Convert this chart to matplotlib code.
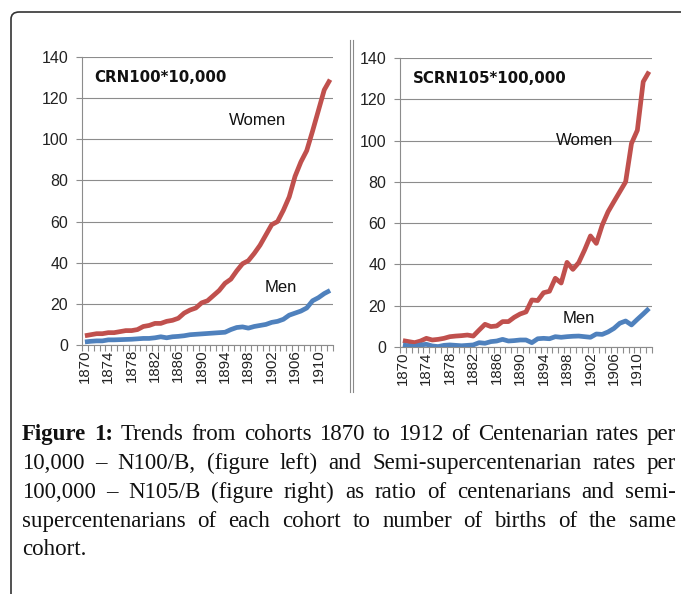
import numpy as np
import matplotlib
matplotlib.use("Agg")
import matplotlib.pyplot as plt
from matplotlib.patches import FancyBboxPatch
from matplotlib.lines import Line2D

# DATA
years = list(range(1870, 1913))

crn_women = [4.5, 5.0, 5.5, 5.5, 6.0, 6.0, 6.5, 7.0, 7.0, 7.5, 9.0, 9.5, 10.5, 10.5, 11.5,
             12.0, 13.0, 15.5, 17.0, 18.0, 20.5, 21.5, 24.0, 26.5, 30.0, 32.0, 36.0, 39.5,
             41.0, 44.5, 48.5, 53.5, 58.5, 60.0, 65.5, 72.0, 82.0, 89.0, 94.5, 104.0, 114.0,
             124.0, 129.0]
crn_men = [1.5, 1.8, 2.0, 2.0, 2.5, 2.5, 2.6, 2.7, 2.8, 3.0, 3.2, 3.2, 3.5, 4.0, 3.5,
           4.0, 4.2, 4.5, 5.0, 5.2, 5.4, 5.6, 5.8, 6.0, 6.2, 7.5, 8.5, 8.8, 8.2, 9.0, 9.5,
           10.0, 11.0, 11.5, 12.5, 14.5, 15.5, 16.5, 18.0, 21.5, 23.0, 25.0, 26.5]

scrn_women = [3.1, 2.6, 2.1, 2.9, 4.2, 3.4, 3.7, 4.2, 5.0, 5.3, 5.5, 5.8, 5.3, 8.2, 11.0,
              9.9, 10.2, 12.3, 12.3, 14.4, 16.0, 17.0, 22.8, 22.5, 26.3, 27.0, 33.3, 31.0,
              41.0, 37.6, 40.9, 47.0, 53.8, 50.2, 59.0, 65.5, 70.4, 75.2, 80.0, 98.6, 105.0,
              128.5, 133.4]
scrn_men = [1.0, 0.5, 0.2, 1.0, 1.3, 0.5, 0.2, 0.8, 1.0, 0.8, 0.6, 0.8, 1.0, 2.1, 1.8,
            2.6, 2.9, 3.7, 2.9, 3.1, 3.4, 3.4, 2.1, 4.0, 4.2, 4.0, 5.0, 4.7, 5.0, 5.2, 5.3,
            5.0, 4.7, 6.3, 6.1, 7.3, 9.0, 11.5, 12.6, 10.7, 13.4, 16.0, 18.7]

panel_titles = ["CRN100*10,000", "SCRN105*100,000"]
yticks = [0, 20, 40, 60, 80, 100, 120, 140]

caption_lines = [
    "Figure 1: Trends from cohorts 1870 to 1912 of Centenarian rates per",
    "10,000 \u2013 N100/B, (figure left) and Semi-supercentenarian rates per",
    "100,000 \u2013 N105/B (figure right) as ratio of centenarians and semi-",
    "supercentenarians of each cohort to number of births of the same",
    "cohort.",
]

W, H = 681, 594
RED = "#c0504d"
BLUE = "#4f81bd"
GRID = "#8c8c8c"

fig = plt.figure(figsize=(W / 100, H / 100), dpi=100)


def px(x0, y0, x1, y1):
    # pixel box (top-left origin) -> figure fraction rect
    return [x0 / W, 1 - y1 / H, (x1 - x0) / W, (y1 - y0) / H]


def draw_panel(rect, women, men, title, women_xy, men_xy):
    ax = fig.add_axes(rect)
    x = np.arange(len(years))
    ax.plot(x, women, color=RED, lw=3.4, solid_capstyle="butt", zorder=3)
    ax.plot(x, men, color=BLUE, lw=3.4, solid_capstyle="butt", zorder=3)
    ax.set_xlim(-0.5, len(years) - 0.5)
    ax.set_ylim(0, 140)
    ax.set_yticks(yticks)
    ax.set_yticklabels([str(v) for v in yticks], fontsize=11.5, family="Liberation Sans",
                       color="#222222")
    ax.yaxis.grid(True, color=GRID, lw=0.8)
    ax.set_axisbelow(True)
    ax.tick_params(axis="y", length=4, color=GRID, width=0.8, pad=6)
    # year labels every 4 years, tick marks between categories
    ax.set_xticks(x[::4])
    ax.set_xticklabels([str(y) for y in years[::4]], rotation=90, fontsize=10.8,
                       family="Liberation Sans", color="#222222")
    ax.tick_params(axis="x", length=0, pad=3)
    ax.set_xticks(np.arange(len(years) + 1) - 0.5, minor=True)
    ax.tick_params(axis="x", which="minor", length=4, color=GRID, width=0.8)
    for s in ["top", "right"]:
        ax.spines[s].set_visible(False)
    for s in ["left", "bottom"]:
        ax.spines[s].set_color(GRID)
        ax.spines[s].set_linewidth(0.8)
    ax.text(0.05, 0.955, title, transform=ax.transAxes, fontsize=10.8, weight="bold",
            family="DejaVu Sans", va="top", ha="left", color="#111111")
    ax.text(women_xy[0], women_xy[1], "Women", fontsize=12, family="Liberation Sans",
            ha="center", va="center", color="#111111")
    ax.text(men_xy[0], men_xy[1], "Men", fontsize=12, family="Liberation Sans",
            ha="center", va="center", color="#111111")
    return ax


draw_panel(px(82, 57, 333, 345), crn_women, crn_men, panel_titles[0], (29.5, 109), (33.5, 28))
draw_panel(px(400, 58, 652, 347), scrn_women, scrn_men, panel_titles[1], (31, 100), (30, 14))

# double separator between the two panels
for xs in (349.5, 353):
    fig.add_artist(Line2D([xs / W, xs / W], [1 - 40 / H, 1 - 392 / H], color="#8a8a8a", lw=0.8))

# outer frame with rounded corner (runs off the right and bottom edges)
frame = FancyBboxPatch((11 / W, -0.05), 1.0, 1 - 12 / H + 0.05,
                       boxstyle="round,pad=0,rounding_size=0.012", transform=fig.transFigure,
                       fill=False, edgecolor="#333333", lw=1.2)
fig.add_artist(frame)

# justified caption
renderer = fig.canvas.get_renderer()
cap_x0, cap_x1 = 22, 676
cap_size = 16.5
baselines = [440, 469, 498, 527, 555]
for i, line in enumerate(caption_lines):
    words = line.split(" ")
    arts = []
    for j, w in enumerate(words):
        bold = i == 0 and j < 2
        t = fig.text(0, 1 - baselines[i] / H, w, fontsize=cap_size, family="Liberation Serif",
                     weight="bold" if bold else "normal", va="baseline", ha="left",
                     color="#111111")
        arts.append(t)
    widths = [a.get_window_extent(renderer).width for a in arts]
    if i < len(caption_lines) - 1 and len(words) > 1:
        gap = (cap_x1 - cap_x0 - sum(widths)) / (len(words) - 1)
    else:
        gap = cap_size * 100 / 72 * 0.25
    xpos = cap_x0
    for a, w in zip(arts, widths):
        a.set_x(xpos / W)
        xpos += w + gap

fig.savefig("out.png", dpi=100)
